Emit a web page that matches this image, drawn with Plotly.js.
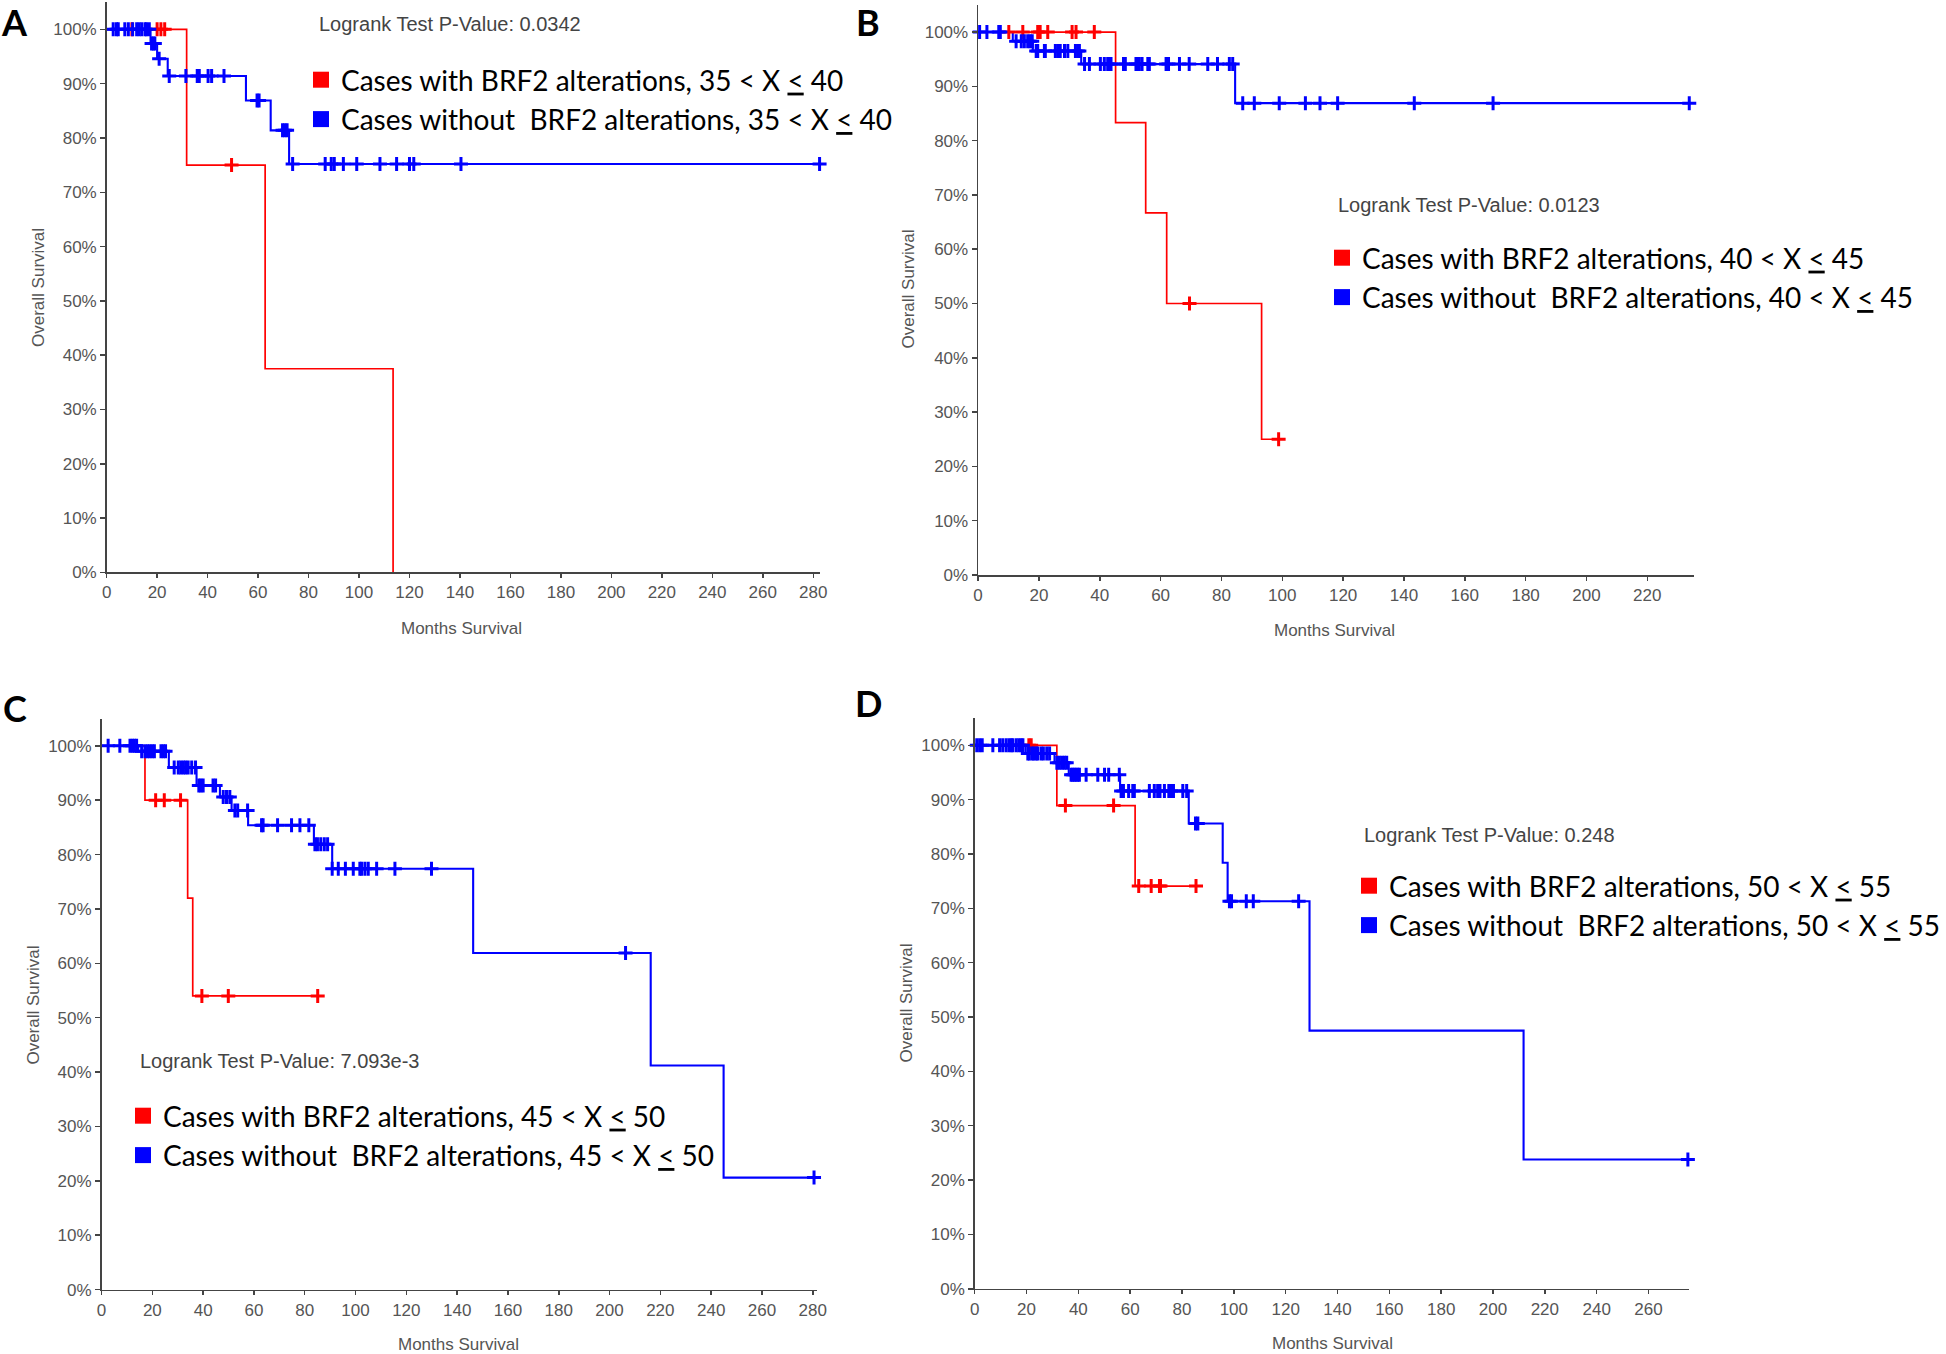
<!DOCTYPE html>
<html><head><meta charset="utf-8">
<script src="https://cdn.plot.ly/plotly-3.0.1.min.js"></script>
<style>html,body{margin:0;padding:0;background:#fff;}</style>
</head><body>
<div id="chart" style="width:1946px;height:1354px;"></div>
<script>
// ---------- DATA (months survival, % overall survival) ----------
// Panel A: 35 < X <= 40
const A_red_t = [0, 31.7, 62.8, 113.5];
const A_red_s = [100, 75, 37.5, 0];
const A_red_censLevels = [100, 75];
const A_red_censTimes = [[10, 20, 21.5, 23], [49.5]];
const A_blue_t = [0, 17.4, 20.0, 24.2, 55.2, 65.0, 72.3, 282.5];
const A_blue_s = [100, 97.4, 94.6, 91.4, 86.9, 81.4, 75.2, 75.2];
const A_blue_censLevels = [100, 97.4, 94.6, 91.4, 86.9, 81.4, 75.2];
const A_blue_censTimes = [
  [2.6, 3.9, 4.6, 7.2, 8.6, 10.3, 11.9, 12.9, 13.9, 15.2, 15.8, 16.9],
  [17.8, 18.5, 19.1],
  [20.8],
  [24.8, 31.4, 35.9, 36.7, 40.2, 41.6, 46.5],
  [59.6, 60.4],
  [69.7, 70.6, 71.5],
  [73.7, 86.6, 89, 90.2, 93.8, 99.1, 108.3, 114.9, 120, 121.7, 140.4, 282.5]
];
// Panel B: 40 < X <= 45
const B_red_t = [0, 45.2, 55.1, 62.0, 93.2, 98.8];
const B_red_s = [100, 83.3, 66.7, 50, 25, 25];
const B_red_censLevels = [100, 50, 25];
const B_red_censTimes = [[10.1, 14.7, 19.6, 20.4, 22.9, 30.9, 32.2, 38.2], [69.5], [98.8]];
const B_blue_t = [0, 11.4, 18.0, 33.9, 84.5, 233.8];
const B_blue_s = [100, 98.3, 96.5, 94.1, 86.9, 86.9];
const B_blue_censLevels = [100, 98.3, 96.5, 94.1, 86.9];
const B_blue_censTimes = [
  [0.5, 2.9, 6.8, 7.3],
  [12.5, 14.2, 15.2, 16.3, 17.1, 17.8],
  [19.1, 19.6, 21.8, 22.1, 25.4, 26.2, 27, 28.4, 29.5, 32, 32.8, 33.3],
  [35, 36.6, 40.2, 41.5, 42.6, 43.2, 43.7, 47.8, 48.4, 51.9, 52.5, 53, 53.9, 55.8, 56.3, 61.8, 62.6, 66.2, 69.4, 75.5, 78.7, 82.6, 83.7],
  [87, 90.8, 99, 107.6, 112.4, 118.2, 143.4, 169.3, 233.8]
];
// Panel C: 45 < X <= 50
const C_red_t = [0, 17.1, 33.9, 35.9, 85.1];
const C_red_s = [100, 90, 72, 54, 54];
const C_red_censLevels = [90, 54];
const C_red_censTimes = [[21.3, 24.7, 31.1], [39.5, 49.9, 85.1]];
const C_blue_t = [0, 14.4, 26.5, 37.4, 46.6, 51.2, 57.7, 83.6, 90.8, 146.3, 216.2, 244.9, 280.5];
const C_blue_s = [100, 99, 96, 92.7, 90.6, 88.1, 85.4, 81.9, 77.4, 61.9, 41.2, 20.6, 20.6];
const C_blue_censLevels = [100, 99, 96, 92.7, 90.6, 88.1, 85.4, 81.9, 77.4, 61.9, 20.6];
const C_blue_censTimes = [
  [2.6, 7.2, 11.2, 12.1, 12.9, 13.8],
  [15.8, 17.1, 18.1, 19, 19.9, 20.8, 23.4, 24.3, 25.2],
  [28.6, 30.2, 31.2, 32.2, 33.1, 34.1, 35.5, 37],
  [38.3, 39.1, 40, 43.9, 44.9],
  [47.9, 49.2, 50.5],
  [52.5, 53.6, 57.5],
  [63, 63.6, 69.3, 74.8, 78.1, 81.6],
  [84, 85, 86.3, 87.7, 89],
  [90.8, 93.2, 96, 99.1, 101.7, 102.4, 103.7, 105, 108.3, 115.5, 129.9],
  [206.3],
  [280.5]
];
// Panel D: 50 < X <= 55
const D_red_t = [0, 31.7, 61.9, 85.4];
const D_red_s = [100, 88.9, 74.1, 74.1];
const D_red_censLevels = [100, 88.9, 74.1];
const D_red_censTimes = [[20.9, 21.8], [35, 53.6], [63.3, 68.1, 71.3, 71.7, 85.4]];
const D_blue_t = [0, 19.6, 30.8, 36.3, 56.1, 82.6, 95.7, 97.6, 129.2, 211.8, 275.2];
const D_blue_s = [100, 98.5, 96.8, 94.6, 91.6, 85.6, 78.4, 71.3, 47.5, 23.8, 23.8];
const D_blue_censLevels = [100, 98.5, 96.8, 94.6, 91.6, 85.6, 71.3, 23.8];
const D_blue_censTimes = [
  [0.8, 1.9, 2.9, 7, 9.6, 10.8, 12.1, 13.2, 14.1, 14.7, 16, 17, 17.9, 18.6],
  [20.5, 21.1, 22.2, 22.8, 23.7, 24.3, 25.6, 26.5, 27.8, 28.9],
  [31.7, 32.7, 33.7, 34.6, 35.5],
  [37.2, 37.8, 38.5, 39.1, 39.8, 40.4, 43, 47.5, 50.1, 51.7, 55.8],
  [56.5, 57.4, 59.4, 61, 61.6, 67.4, 69.3, 70.6, 71.5, 73.2, 74.9, 75.8, 76.7, 80.3, 81.8],
  [85.2, 86.1],
  [98.3, 99.1, 104.8, 107.5, 125],
  [275.2]
];

const panelLetters = ['A', 'B', 'C', 'D'];
const ageRanges = ['35 &lt; X <u>&lt;</u> 40', '40 &lt; X <u>&lt;</u> 45', '45 &lt; X <u>&lt;</u> 50', '50 &lt; X <u>&lt;</u> 55'];
const pValues = ['0.0342', '0.0123', '7.093e-3', '0.248'];
const xMax = [282.5, 235.2, 281.7, 275.8];

// ---------- LAYOUT HELPERS ----------
const W = 1946, H = 1354;
const fx = p => p / W;
const fy = p => 1 - p / H;
const RED = '#ff0000', BLUE = '#0000ff';

// panel boxes in pixels: [left, right, top, bottom]
const boxes = [
  [106.7, 820.0, 2.2, 572.4],
  [978.6, 1694.4, 4.9, 575.0],
  [101.6, 817.5, 718.6, 1289.6],
  [975.2, 1690.3, 718.1, 1288.8]
];

function expand(levels, times) {
  const xs = [], ys = [];
  times.forEach((arr, i) => arr.forEach(v => { xs.push(v); ys.push(levels[i]); }));
  return {xs, ys};
}

const groups = [
  {red: [A_red_t, A_red_s, A_red_censLevels, A_red_censTimes], blue: [A_blue_t, A_blue_s, A_blue_censLevels, A_blue_censTimes]},
  {red: [B_red_t, B_red_s, B_red_censLevels, B_red_censTimes], blue: [B_blue_t, B_blue_s, B_blue_censLevels, B_blue_censTimes]},
  {red: [C_red_t, C_red_s, C_red_censLevels, C_red_censTimes], blue: [C_blue_t, C_blue_s, C_blue_censLevels, C_blue_censTimes]},
  {red: [D_red_t, D_red_s, D_red_censLevels, D_red_censTimes], blue: [D_blue_t, D_blue_s, D_blue_censLevels, D_blue_censTimes]}
];

const traces = [];
const legendNames = ['legend', 'legend2', 'legend3', 'legend4'];
groups.forEach((g, i) => {
  const xa = i === 0 ? 'x' : 'x' + (i + 1);
  const ya = i === 0 ? 'y' : 'y' + (i + 1);
  // step lines
  traces.push({x: g.red[0], y: g.red[1], xaxis: xa, yaxis: ya, mode: 'lines', line: {shape: 'hv', color: RED, width: 1.7}, showlegend: false, hoverinfo: 'skip'});
  traces.push({x: g.blue[0], y: g.blue[1], xaxis: xa, yaxis: ya, mode: 'lines', line: {shape: 'hv', color: BLUE, width: 2.1}, showlegend: false, hoverinfo: 'skip'});
  // censor marks
  const rc = expand(g.red[2], g.red[3]);
  const bc = expand(g.blue[2], g.blue[3]);
  traces.push({x: rc.xs, y: rc.ys, xaxis: xa, yaxis: ya, mode: 'markers', marker: {symbol: 'cross-thin', size: 10, line: {color: RED, width: 3}}, showlegend: false, hoverinfo: 'skip', cliponaxis: false});
  traces.push({x: bc.xs, y: bc.ys, xaxis: xa, yaxis: ya, mode: 'markers', marker: {symbol: 'cross-thin', size: 10, line: {color: BLUE, width: 3}}, showlegend: false, hoverinfo: 'skip', cliponaxis: false});
  // legend entries
  traces.push({x: [null], y: [null], xaxis: xa, yaxis: ya, mode: 'markers', marker: {symbol: 'square', size: 16, color: RED},
    name: 'Cases with BRF2 alterations, ' + ageRanges[i], legend: legendNames[i], hoverinfo: 'skip'});
  traces.push({x: [null], y: [null], xaxis: xa, yaxis: ya, mode: 'markers', marker: {symbol: 'square', size: 16, color: BLUE},
    name: 'Cases without\u00a0 BRF2 alterations, ' + ageRanges[i], legend: legendNames[i], hoverinfo: 'skip'});
});

const tickFont = {family: 'Liberation Sans, Arial, sans-serif', size: 17, color: '#555'};
const layout = {
  width: W, height: H,
  margin: {l: 0, r: 0, t: 0, b: 0},
  paper_bgcolor: '#fff', plot_bgcolor: '#fff',
  showlegend: true,
  annotations: []
};

const legendPos = [[321, 78], [1342, 256], [143, 1114], [1370, 884]];
boxes.forEach((b, i) => {
  const sfx = i === 0 ? '' : String(i + 1);
  layout['xaxis' + sfx] = {
    domain: [fx(b[0]), fx(b[1])], anchor: 'y' + sfx, range: [0, xMax[i]],
    showline: true, linecolor: '#444', linewidth: 1.5, ticks: 'outside', ticklen: 4, tickwidth: 1.5, tickcolor: '#444',
    tick0: 0, dtick: 20, showgrid: false, zeroline: false, tickfont: tickFont, fixedrange: true
  };
  layout['yaxis' + sfx] = {
    domain: [fy(b[3]), fy(b[2])], anchor: 'x' + sfx, range: [0, 105],
    showline: true, linecolor: '#444', linewidth: 1.5, ticks: 'outside', ticklen: 5, tickwidth: 1.5, tickcolor: '#444',
    tick0: 0, dtick: 10, ticksuffix: '%', showgrid: false, zeroline: false, tickfont: tickFont, fixedrange: true
  };
  layout[legendNames[i]] = {
    x: fx(legendPos[i][0] - 20), xanchor: 'left', y: fy(legendPos[i][1] - 23), yanchor: 'top',
    bgcolor: 'rgba(0,0,0,0)', borderwidth: 0,
    font: {family: 'Lato, sans-serif', size: 28, color: '#000'}
  };
});

const ann = layout.annotations;
const letterPos = [[15, 22], [868, 22], [15, 708], [869, 703]];
const pvalPos = [[317, 24], [1337, 205], [138.5, 1060.5], [1362.7, 835]];
const yTitlePos = [[38, 287], [909, 289], [33.6, 1005], [906, 1003]];
const xTitlePos = [[462, 628], [1335, 630], [459, 1344], [1333, 1343]];
for (let i = 0; i < 4; i++) {
  ann.push({xref: 'paper', yref: 'paper', x: fx(letterPos[i][0]), y: fy(letterPos[i][1]), text: '<b>' + panelLetters[i] + '</b>',
    showarrow: false, xanchor: 'center', yanchor: 'middle', font: {family: 'Lato, sans-serif', size: 36, color: '#000'}});
  ann.push({xref: 'paper', yref: 'paper', x: fx(pvalPos[i][0]), y: fy(pvalPos[i][1]), text: 'Logrank Test P-Value: ' + pValues[i],
    showarrow: false, xanchor: 'left', yanchor: 'middle', font: {family: 'Liberation Sans, Arial, sans-serif', size: 20, color: '#444'}});
  ann.push({xref: 'paper', yref: 'paper', x: fx(yTitlePos[i][0]), y: fy(yTitlePos[i][1]), text: 'Overall Survival', textangle: -90,
    showarrow: false, xanchor: 'center', yanchor: 'middle', font: {family: 'Liberation Sans, Arial, sans-serif', size: 17, color: '#555'}});
  ann.push({xref: 'paper', yref: 'paper', x: fx(xTitlePos[i][0]), y: fy(xTitlePos[i][1]), text: 'Months Survival',
    showarrow: false, xanchor: 'center', yanchor: 'middle', font: {family: 'Liberation Sans, Arial, sans-serif', size: 17, color: '#555'}});
}

Plotly.newPlot('chart', traces, layout, {staticPlot: true, displayModeBar: false});
</script>
</body></html>
